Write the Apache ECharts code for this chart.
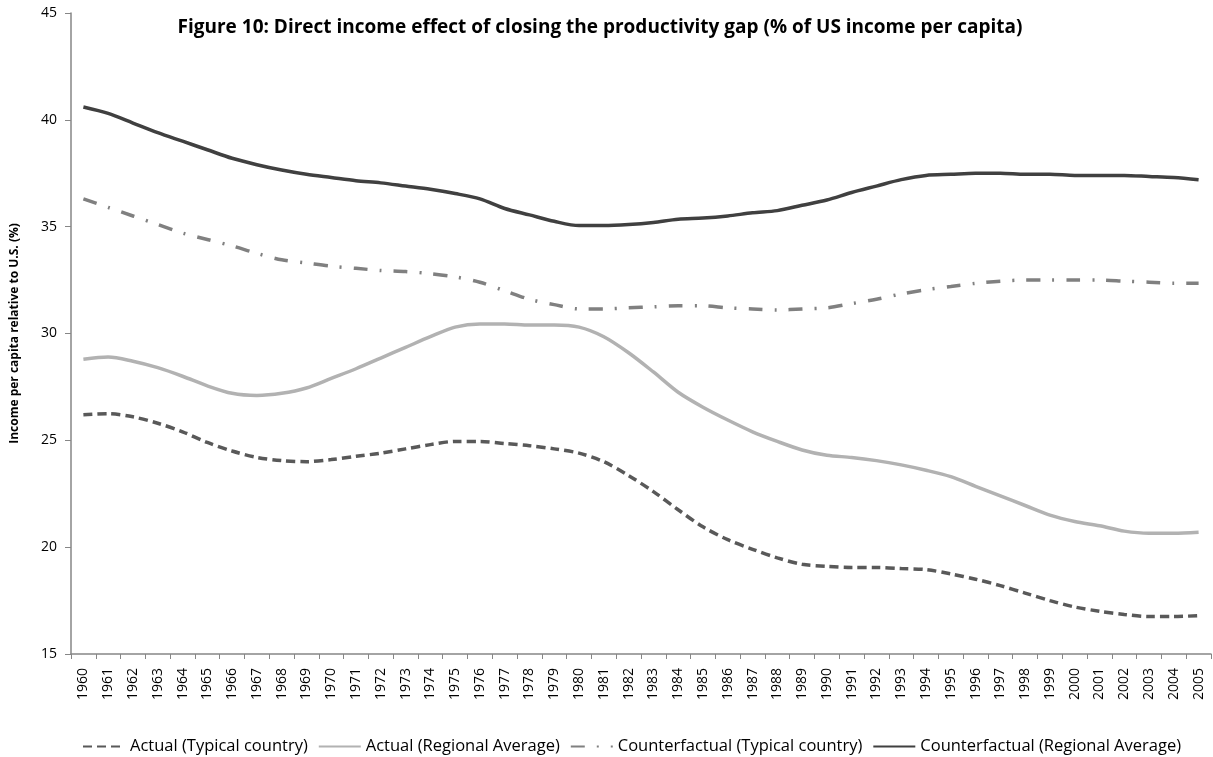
<!DOCTYPE html>
<html>
<head>
<meta charset="utf-8">
<script src="https://cdn.jsdelivr.net/npm/echarts@6/dist/echarts.min.js"></script>
<style>
  html, body { margin: 0; padding: 0; background: #fff; }
  #chart { width: 1213px; height: 757px; }
</style>
</head>
<body>
<div id="chart"></div>
<script>
var years = [];
for (var y = 1960; y <= 2005; y++) years.push(String(y));

var actualTypical = [
  26.2, 26.25, 26.1, 25.8, 25.4, 24.9, 24.5, 24.2, 24.05, 24.0,
  24.1, 24.25, 24.4, 24.6, 24.8, 24.95, 24.95, 24.85, 24.75, 24.6,
  24.4, 24.0, 23.35, 22.6, 21.75, 20.95, 20.35, 19.9, 19.5, 19.2,
  19.1, 19.05, 19.05, 19.0, 18.95, 18.75, 18.5, 18.2, 17.85, 17.5,
  17.2, 17.0, 16.85, 16.75, 16.75, 16.8
]
var actualRegional = [
  28.8, 28.9, 28.7, 28.4, 28.0, 27.55, 27.2, 27.1, 27.2, 27.45,
  27.9, 28.35, 28.85, 29.35, 29.85, 30.3, 30.45, 30.45, 30.4, 30.4,
  30.3, 29.85, 29.1, 28.2, 27.25, 26.55, 25.95, 25.4, 24.95, 24.55,
  24.3, 24.2, 24.05, 23.85, 23.6, 23.3, 22.85, 22.4, 21.95, 21.5,
  21.2, 21.0, 20.75, 20.65, 20.65, 20.7
]
var counterTypical = [
  36.3, 35.9, 35.5, 35.1, 34.7, 34.4, 34.1, 33.75, 33.45, 33.3,
  33.15, 33.05, 32.95, 32.9, 32.8, 32.65, 32.4, 32.0, 31.6, 31.35,
  31.15, 31.15, 31.2, 31.25, 31.3, 31.3, 31.2, 31.15, 31.1, 31.15,
  31.2, 31.4, 31.6, 31.85, 32.05, 32.2, 32.35, 32.45, 32.5, 32.5,
  32.5, 32.5, 32.45, 32.4, 32.35, 32.35
]
var counterRegional = [
  40.6, 40.3, 39.85, 39.4, 39.0, 38.6, 38.2, 37.9, 37.65, 37.45,
  37.3, 37.15, 37.05, 36.9, 36.75, 36.55, 36.3, 35.85, 35.55, 35.25,
  35.05, 35.05, 35.1, 35.2, 35.35, 35.4, 35.5, 35.65, 35.75, 36.0,
  36.25, 36.6, 36.9, 37.2, 37.4, 37.45, 37.5, 37.5, 37.45, 37.45,
  37.4, 37.4, 37.4, 37.35, 37.3, 37.2
]

var chart = echarts.init(document.getElementById('chart'))
var font = 'Open Sans'

chart.setOption({
  animation: false,
  title: {
    text: 'Figure 10: Direct income effect of closing the productivity gap (% of US income per capita)',
    left: 595,
    textAlign: 'center',
    top: 13,
    textStyle: {
      fontFamily: font,
      fontSize: 19,
      fontWeight: 'bold',
      color: '#000'
    }
  },
  legend: {
    top: 733,
    left: 77,
    itemWidth: 42,
    itemHeight: 12,
    itemGap: 10,
    itemStyle: { opacity: 0 },
    textStyle: {
      fontFamily: font,
      fontSize: 16.5,
      color: '#000'
    },
    data: [
      'Actual (Typical country)',
      'Actual (Regional Average)',
      'Counterfactual (Typical country)',
      'Counterfactual (Regional Average)'
    ]
  },
  grid: {
    left: 71,
    right: 2,
    top: 13,
    bottom: 103
  },
  xAxis: {
    type: 'category',
    data: years,
    boundaryGap: true,
    axisLine: { lineStyle: { color: '#868686', width: 1.5 } },
    axisTick: { show: true, length: 5, lineStyle: { color: '#868686' } },
    axisLabel: {
      rotate: 90,
      interval: 0,
      fontFamily: font,
      fontSize: 14,
      color: '#000',
      margin: 14
    }
  },
  yAxis: {
    type: 'value',
    min: 15,
    max: 45,
    interval: 5,
    name: 'Income per capita relative to U.S. (%)',
    nameLocation: 'middle',
    nameGap: 50,
    nameTextStyle: {
      fontFamily: font,
      fontSize: 12,
      fontWeight: 'bold',
      color: '#000'
    },
    axisLine: { show: true, lineStyle: { color: '#868686', width: 1.5 } },
    axisTick: { show: true, length: 6, lineStyle: { color: '#868686' } },
    splitLine: { show: false },
    axisLabel: {
      fontFamily: font,
      fontSize: 14,
      color: '#000',
      margin: 14
    }
  },
  series: [
    {
      name: 'Actual (Typical country)',
      type: 'line',
      smooth: 0.3,
      symbol: 'none',
      data: actualTypical,
      color: '#595959',
      lineStyle: { color: '#595959', width: 3.5, type: [9, 5] }
    },
    {
      name: 'Actual (Regional Average)',
      type: 'line',
      smooth: 0.3,
      symbol: 'none',
      data: actualRegional,
      color: '#b2b2b2',
      lineStyle: { color: '#b2b2b2', width: 3.5 }
    },
    {
      name: 'Counterfactual (Typical country)',
      type: 'line',
      smooth: 0.3,
      symbol: 'none',
      data: counterTypical,
      color: '#808080',
      lineStyle: { color: '#808080', width: 3.5, type: [14, 12, 2, 12] }
    },
    {
      name: 'Counterfactual (Regional Average)',
      type: 'line',
      smooth: 0.3,
      symbol: 'none',
      data: counterRegional,
      color: '#404040',
      lineStyle: { color: '#404040', width: 3.5 }
    }
  ]
})
</script>
</body>
</html>
